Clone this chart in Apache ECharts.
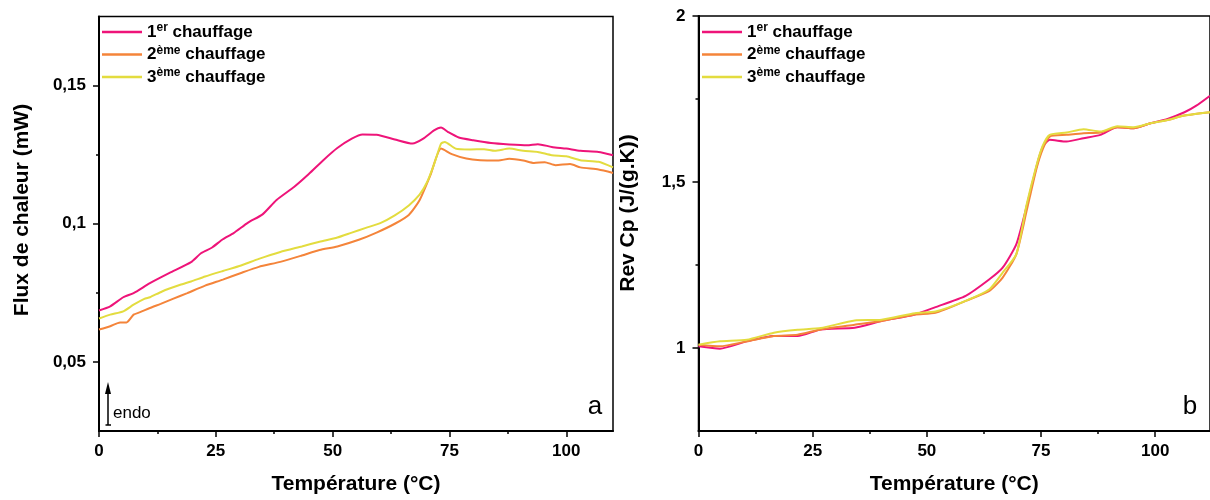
<!DOCTYPE html>
<html><head><meta charset="utf-8">
<script src="https://cdn.jsdelivr.net/npm/echarts@6/dist/echarts.min.js"></script>
<style>html,body{margin:0;padding:0;background:#fff}#c{width:1210px;height:500px}</style>
</head><body><div id="c"></div>
<script>
// ---------- labels ----------
const seriesNames = ['1er chauffage', '2ème chauffage', '3ème chauffage'];
const colors = ['#EE1479', '#F4843A', '#E3DC3F'];
const xTitle = 'Température (°C)';
const fluxTitle = 'Flux de chaleur (mW)';
const cpTitle = 'Rev Cp (J/(g.K))';

// ---------- ticks ----------
const xTicks = [0, 25, 50, 75, 100];
const xMinorTicks = [12.5, 37.5, 62.5, 87.5];
const fluxTicks = [0.05, 0.1, 0.15];
const fluxMinorTicks = [0.075, 0.125];
const cpTicks = [1, 1.5, 2];
const cpMinorTicks = [1.25, 1.75];

// ---------- panel a : heat flow ----------
const fluxT1 = [0, 2.4, 5.2, 7.4, 10.9, 15.1, 19.7, 21.9, 24.2, 26.5, 28.8, 31.9, 35.0, 38.0, 41.8, 44.9, 48.0, 51.0, 54.1, 56.4, 59.4, 63.3, 67.1, 69.4, 71.7, 73.2, 74.7, 77.0, 80.1, 83.9, 87.8, 91.6, 93.9, 96.9, 100.0, 103.0, 106.9, 110];
const fluxV1 = [0.0686, 0.0701, 0.0734, 0.0749, 0.0785, 0.0822, 0.0861, 0.0894, 0.0914, 0.0944, 0.0966, 0.1004, 0.1034, 0.1086, 0.1134, 0.1180, 0.1230, 0.1274, 0.1308, 0.1323, 0.1322, 0.1305, 0.1290, 0.1308, 0.1338, 0.1348, 0.1332, 0.1312, 0.1302, 0.1292, 0.1287, 0.1284, 0.1288, 0.1278, 0.1272, 0.1264, 0.1260, 0.1248];

const fluxT2 = [0, 2.4, 4.5, 5.9, 7.4, 8.8, 10.9, 13.2, 15.8, 18.9, 22.7, 26.5, 30.4, 34.2, 38.8, 43.4, 47.2, 51.0, 55.6, 59.4, 63.3, 66.3, 68.6, 70.9, 73.2, 75.5, 78.6, 81.6, 85.5, 87.8, 90.8, 93.1, 95.4, 97.7, 100.8, 103.0, 106.9, 110];
const fluxV2 = [0.0617, 0.0629, 0.0643, 0.0643, 0.0671, 0.0680, 0.0695, 0.0710, 0.0728, 0.0749, 0.0776, 0.0798, 0.0822, 0.0844, 0.0862, 0.0885, 0.0905, 0.0918, 0.0942, 0.0968, 0.1000, 0.1032, 0.1085, 0.1175, 0.1272, 0.1252, 0.1236, 0.1230, 0.1229, 0.1235, 0.1229, 0.1220, 0.1223, 0.1212, 0.1216, 0.1204, 0.1196, 0.1184];

const fluxT3 = [0, 2.4, 5.2, 7.4, 9.7, 10.9, 13.5, 17.4, 19.7, 22.7, 26.5, 30.4, 34.2, 38.8, 43.4, 47.2, 51.0, 54.1, 57.1, 60.2, 63.3, 66.3, 68.6, 70.2, 71.7, 73.2, 74.0, 76.3, 79.3, 82.4, 84.7, 87.8, 90.8, 93.9, 96.9, 100.0, 103.0, 106.9, 110];
const fluxV3 = [0.0657, 0.0671, 0.0683, 0.0707, 0.0728, 0.0734, 0.0755, 0.0779, 0.0791, 0.0809, 0.0829, 0.0849, 0.0873, 0.0898, 0.0918, 0.0935, 0.0950, 0.0968, 0.0985, 0.1002, 0.1030, 0.1066, 0.1105, 0.1150, 0.1215, 0.1290, 0.1296, 0.1272, 0.1269, 0.1270, 0.1264, 0.1272, 0.1264, 0.1260, 0.1248, 0.1244, 0.1230, 0.1224, 0.1204];

// ---------- panel b : reversing Cp ----------
const cpT1 = [0, 4.7, 10.6, 16.5, 21.7, 26.8, 34.2, 40.1, 47.4, 51.9, 58.5, 63.7, 66.6, 69.6, 71.8, 74.0, 75.4, 76.9, 80.6, 84.3, 88.0, 91.7, 95.3, 99.0, 102.7, 106.4, 109.0, 112];
const cpV1 = [1.005, 0.998, 1.02, 1.036, 1.036, 1.056, 1.061, 1.081, 1.101, 1.123, 1.157, 1.207, 1.242, 1.313, 1.424, 1.546, 1.606, 1.627, 1.622, 1.632, 1.642, 1.665, 1.662, 1.677, 1.69, 1.71, 1.73, 1.76];

const cpT2 = [0, 4.7, 10.6, 16.5, 21.7, 26.8, 34.2, 40.1, 47.4, 51.9, 58.5, 63.7, 66.6, 69.6, 71.8, 74.0, 75.4, 76.9, 80.6, 84.3, 88.0, 91.7, 95.3, 99.0, 102.7, 106.4, 112];
const cpV2 = [1.01, 1.005, 1.02, 1.036, 1.04, 1.056, 1.07, 1.081, 1.101, 1.106, 1.142, 1.172, 1.212, 1.283, 1.41, 1.54, 1.60, 1.637, 1.642, 1.647, 1.649, 1.665, 1.662, 1.677, 1.687, 1.70, 1.71];

const cpT3 = [0, 4.7, 10.6, 16.5, 21.7, 26.8, 34.2, 40.1, 47.4, 51.9, 58.5, 63.7, 66.6, 69.6, 71.8, 74.0, 75.4, 76.9, 80.6, 84.3, 88.0, 91.7, 95.3, 99.0, 102.7, 106.4, 112];
const cpV3 = [1.01, 1.02, 1.025, 1.046, 1.055, 1.06, 1.083, 1.085, 1.105, 1.11, 1.142, 1.177, 1.227, 1.283, 1.429, 1.55, 1.61, 1.642, 1.649, 1.659, 1.652, 1.668, 1.665, 1.677, 1.687, 1.70, 1.71];

// ---------- build ----------
const FONT = '"Liberation Sans", Arial, sans-serif';
const black = '#000';
const pairs = (xs, ys) => xs.map((x, i) => [x, ys[i]]);
const comma = v => String(v).replace('.', ',');

function mainX(grid, max) {
  return {
    type: 'value', gridIndex: grid, min: 0, max: max, position: 'bottom',
    axisLine: { show: true, onZero: false, lineStyle: { color: black, width: 2 } },
    axisTick: { show: true, customValues: xTicks, length: 6, lineStyle: { color: black, width: 1.5 } },
    axisLabel: { customValues: xTicks, margin: 12, color: black, fontSize: 17, fontWeight: 'bold', fontFamily: FONT },
    splitLine: { show: false },
    name: xTitle, nameLocation: 'middle', nameGap: 43,
    nameTextStyle: { color: black, fontSize: 21, fontWeight: 'bold', fontFamily: FONT }
  };
}
function minorX(grid, max) {
  return {
    type: 'value', gridIndex: grid, min: 0, max: max, position: 'bottom',
    axisLine: { show: false, onZero: false },
    axisTick: { show: true, customValues: xMinorTicks, length: 3, lineStyle: { color: black, width: 1.5 } },
    axisLabel: { show: false }, splitLine: { show: false }
  };
}
function mainY(grid, min, max, ticks) {
  return {
    type: 'value', gridIndex: grid, min: min, max: max, position: 'left',
    axisLine: { show: true, onZero: false, lineStyle: { color: black, width: 2 } },
    axisTick: { show: true, customValues: ticks, length: 6, lineStyle: { color: black, width: 1.5 } },
    axisLabel: { customValues: ticks, margin: 13, color: black, fontSize: 17, fontWeight: 'bold', fontFamily: FONT, formatter: comma },
    splitLine: { show: false }
  };
}
function minorY(grid, min, max, ticks) {
  return {
    type: 'value', gridIndex: grid, min: min, max: max, position: 'left',
    axisLine: { show: false, onZero: false },
    axisTick: { show: true, customValues: ticks, length: 3, lineStyle: { color: black, width: 1.5 } },
    axisLabel: { show: false }, splitLine: { show: false }
  };
}
function legendAt(left) {
  return {
    orient: 'vertical', left: left, top: 22, padding: 0, itemGap: 4,
    itemWidth: 40, itemHeight: 2.5, icon: 'rect', selectedMode: false,
    data: seriesNames,
    formatter: n => n.replace(/^(\d)(er|ème)(.*)$/, '{n|$1}{s|$2}{n|$3}'),
    textStyle: {
      color: black,
      rich: {
        n: { fontSize: 17, fontWeight: 'bold', fontFamily: FONT, lineHeight: 20, color: black },
        s: { fontSize: 12, fontWeight: 'bold', fontFamily: FONT, lineHeight: 11, color: black, verticalAlign: 'top' }
      }
    }
  };
}
function line(name, color, xi, yi, data) {
  return {
    type: 'line', name: name, xAxisIndex: xi, yAxisIndex: yi, data: data,
    showSymbol: false, symbol: 'none', smooth: 0.2, clip: true,
    lineStyle: { color: color, width: 2 }, itemStyle: { color: color }
  };
}

const fluxData = [pairs(fluxT1, fluxV1), pairs(fluxT2, fluxV2), pairs(fluxT3, fluxV3)];
const cpData = [pairs(cpT1, cpV1), pairs(cpT2, cpV2), pairs(cpT3, cpV3)];

const option = {
  animation: false,
  backgroundColor: '#fff',
  grid: [
    { left: 99, top: 16.5, width: 514, height: 415.5, show: true, borderColor: black, borderWidth: 1.5 },
    { left: 698.5, top: 16, width: 514, height: 415, show: true, borderColor: black, borderWidth: 1.5 }
  ],
  xAxis: [mainX(0, 110), minorX(0, 110), mainX(1, 112), minorX(1, 112)],
  yAxis: [mainY(0, 0.025, 0.175, fluxTicks), minorY(0, 0.025, 0.175, fluxMinorTicks),
          mainY(1, 0.75, 2, cpTicks), minorY(1, 0.75, 2, cpMinorTicks)],
  legend: [legendAt(102), legendAt(702)],
  series: [
    line(seriesNames[0], colors[0], 0, 0, fluxData[0]),
    line(seriesNames[1], colors[1], 0, 0, fluxData[1]),
    line(seriesNames[2], colors[2], 0, 0, fluxData[2]),
    line(seriesNames[0], colors[0], 2, 2, cpData[0]),
    line(seriesNames[1], colors[1], 2, 2, cpData[1]),
    line(seriesNames[2], colors[2], 2, 2, cpData[2])
  ],
  graphic: [
    { type: 'text', x: 22, y: 210, rotation: Math.PI / 2,
      style: { text: fluxTitle, fill: black, font: 'bold 21px ' + FONT, textAlign: 'center', textVerticalAlign: 'middle' } },
    { type: 'text', x: 628, y: 213, rotation: Math.PI / 2,
      style: { text: cpTitle, fill: black, font: 'bold 21px ' + FONT, textAlign: 'center', textVerticalAlign: 'middle' } },
    { type: 'text', x: 595, y: 407,
      style: { text: 'a', fill: black, font: '26px ' + FONT, textAlign: 'center', textVerticalAlign: 'middle' } },
    { type: 'text', x: 1190, y: 407,
      style: { text: 'b', fill: black, font: '26px ' + FONT, textAlign: 'center', textVerticalAlign: 'middle' } },
    { type: 'text', x: 113, y: 413,
      style: { text: 'endo', fill: black, font: '17px ' + FONT, textAlign: 'left', textVerticalAlign: 'middle' } },
    { type: 'line', shape: { x1: 108, y1: 425, x2: 108, y2: 391 }, style: { stroke: black, lineWidth: 1.5 } },
    { type: 'line', shape: { x1: 105.5, y1: 425, x2: 111, y2: 425 }, style: { stroke: black, lineWidth: 1.5 } },
    { type: 'polygon', shape: { points: [[108, 382], [105, 394], [111, 394]] }, style: { fill: black } }
  ]
};
const chart = echarts.init(document.getElementById('c'), null, { renderer: 'canvas' });
chart.setOption(option);
</script>
</body></html>
